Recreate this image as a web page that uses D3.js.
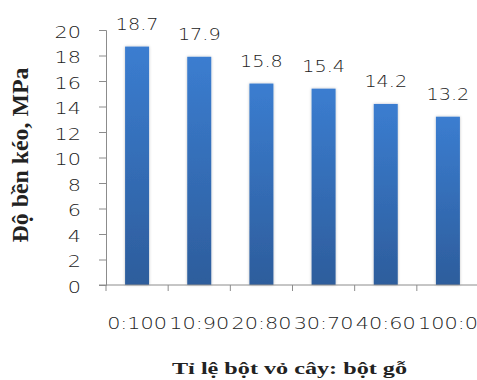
<!DOCTYPE html>
<html>
<head>
<meta charset="utf-8">
<script src="https://cdn.jsdelivr.net/npm/d3@7/dist/d3.min.js"></script>
<style>
  html, body { margin: 0; padding: 0; background: #fff; }
  svg { display: block; }
  text { fill: #222; }
  .num { font-family: "DejaVu Sans", Verdana, sans-serif; font-weight: 200; font-size: 16px; }
  .title { font-family: "Liberation Serif", "Times New Roman", serif; font-weight: bold; }
</style>
</head>
<body>
<svg id="chart" width="477" height="380"></svg>
<script>
// Tensile strength by bark powder : wood powder ratio
const categories = ["0:100", "10:90", "20:80", "30:70", "40:60", "100:0"];
const strength = [18.7, 17.9, 15.8, 15.4, 14.2, 13.2];
const yTicks = [0, 2, 4, 6, 8, 10, 12, 14, 16, 18, 20];
const yTitle = "Độ bền kéo, MPa";
const xTitle = "Tỉ lệ bột vỏ cây: bột gỗ";

const svg = d3.select("#chart");
const margin = { left: 106, top: 30, right: -2, bottom: 95 };
const W = 477, H = 380;
const wideValue = 1.2; // horizontal widening of the value labels
const wideTick = 1.3;  // horizontal widening of the tick labels

const x = d3.scaleBand()
  .domain(categories)
  .range([margin.left, W - margin.right])
  .paddingInner(0.614)
  .paddingOuter(0.307);

const y = d3.scaleLinear()
  .domain([0, 20])
  .range([H - margin.bottom, margin.top]);

// bar gradient and soft edge
const defs = svg.append("defs");
const grad = defs.append("linearGradient")
  .attr("id", "barGrad").attr("x1", 0).attr("y1", 0).attr("x2", 0).attr("y2", 1);
grad.append("stop").attr("offset", "0%").attr("stop-color", "#3b7dd0");
grad.append("stop").attr("offset", "100%").attr("stop-color", "#2d5d9c");

const shadow = defs.append("filter").attr("id", "soft")
  .attr("x", "-30%").attr("y", "-10%").attr("width", "160%").attr("height", "120%");
shadow.append("feGaussianBlur").attr("in", "SourceAlpha").attr("stdDeviation", 1.5).attr("result", "b");
shadow.append("feComponentTransfer").attr("in", "b").attr("result", "s")
  .append("feFuncA").attr("type", "linear").attr("slope", 0.25);
const merge = shadow.append("feMerge");
merge.append("feMergeNode").attr("in", "s");
merge.append("feMergeNode").attr("in", "SourceGraphic");

// bars
svg.append("g").selectAll("rect")
  .data(categories)
  .join("rect")
  .attr("x", (d) => x(d))
  .attr("width", x.bandwidth())
  .attr("y", (d, i) => y(strength[i]))
  .attr("height", (d, i) => y(0) - y(strength[i]))
  .attr("fill", "url(#barGrad)")
  .attr("filter", "url(#soft)");

// value labels
svg.append("g").selectAll("text")
  .data(categories)
  .join("text")
  .attr("class", "num")
  .attr("text-anchor", "middle")
  .attr("transform", (d, i) =>
    `translate(${x(d) + x.bandwidth() / 2},${y(strength[i]) - 16.5}) scale(${wideValue},1)`)
  .text((d, i) => strength[i].toFixed(1));

// y axis
const yAxis = svg.append("g")
  .attr("transform", `translate(${margin.left},0)`)
  .call(d3.axisLeft(y).tickValues(yTicks).tickSize(7).tickPadding(0).tickFormat(d3.format("d")));
yAxis.selectAll("path, line").attr("stroke", "#8c8c8c");
yAxis.selectAll("text")
  .attr("class", "num")
  .attr("font-family", null)
  .attr("font-size", null)
  .attr("fill", null)
  .attr("dy", null)
  .attr("x", null)
  .attr("transform", `translate(-25,7) scale(${wideTick},1)`)
  .attr("text-anchor", "end");

// x axis: baseline with category separators
const base = y(0);
const gx = svg.append("g");
gx.append("line")
  .attr("x1", x.range()[0] - 7).attr("x2", x.range()[1])
  .attr("y1", base).attr("y2", base)
  .attr("stroke", "#8c8c8c");
gx.selectAll("line.sep")
  .data(d3.range(categories.length + 1))
  .join("line")
  .attr("class", "sep")
  .attr("x1", (i) => x.range()[0] + i * x.step())
  .attr("x2", (i) => x.range()[0] + i * x.step())
  .attr("y1", base).attr("y2", base + 6)
  .attr("stroke", "#8c8c8c");
gx.selectAll("text")
  .data(categories)
  .join("text")
  .attr("class", "num")
  .attr("text-anchor", "middle")
  .attr("transform", (d) => `translate(${x(d) + x.bandwidth() / 2},${base + 44}) scale(${wideTick},1)`)
  .text((d) => d);

// axis titles
svg.append("text")
  .attr("class", "title")
  .attr("text-anchor", "middle")
  .attr("font-size", 17)
  .attr("textLength", 235)
  .attr("lengthAdjust", "spacingAndGlyphs")
  .attr("x", 289.5).attr("y", 374)
  .text(xTitle);

svg.append("text")
  .attr("class", "title")
  .attr("text-anchor", "middle")
  .attr("font-size", 17)
  .attr("textLength", 175)
  .attr("lengthAdjust", "spacingAndGlyphs")
  .attr("transform", "translate(28,155) rotate(-90) scale(1,1.35)")
  .text(yTitle);
</script>
</body>
</html>
